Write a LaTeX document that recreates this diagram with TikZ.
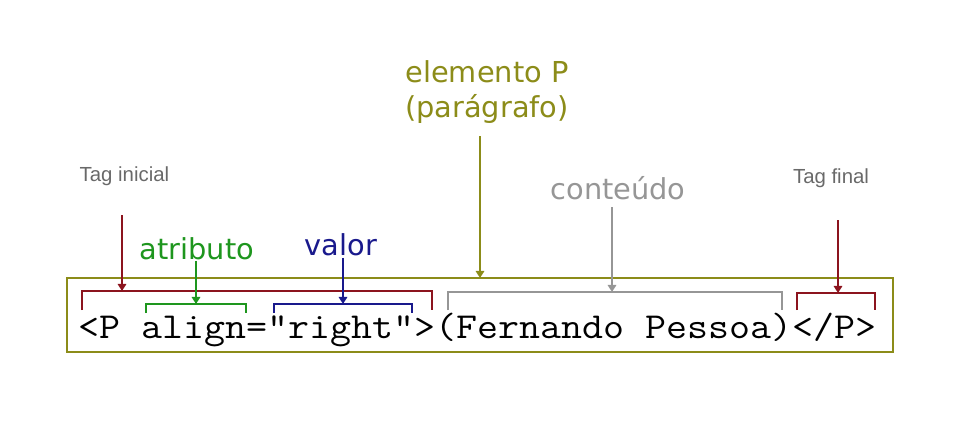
\documentclass[tikz,border=0pt]{standalone}
\usepackage{fontspec}
\newfontfamily\labelfont{DejaVu Sans}
\newfontfamily\tagfont{Liberation Sans}
\usetikzlibrary{arrows.meta}
\definecolor{tagred}{RGB}{140,20,30}
\definecolor{attgreen}{RGB}{30,150,30}
\definecolor{valblue}{RGB}{25,25,140}
\definecolor{elemolive}{RGB}{140,140,25}
\definecolor{contgray}{RGB}{150,150,150}
\definecolor{taggray}{RGB}{105,105,105}
\tikzset{
  partlabel/.style={font=\labelfont\fontsize{20.5}{25}\selectfont, inner sep=1pt},
  taglabel/.style={font=\tagfont\fontsize{14.5}{17}\selectfont, text=taggray, inner sep=1pt},
  brace/.style={line width=1.4pt},
  pointer/.style={line width=1.4pt, -{Triangle[length=5pt,width=6pt]}}
}
\begin{document}
\begin{tikzpicture}[x=0.025cm, y=-0.025cm]
% page size
\useasboundingbox (0,0) rectangle (958,422);

% the code line in its box
\draw[elemolive, line width=1.4pt] (67,278) rectangle (893,352);
\node[anchor=base west, inner sep=0, xscale=1.115, font=\ttfamily\fontsize{26}{30}\selectfont] (code) at (78,338) {<P align="right">(Fernando Pessoa)</P>};

% brackets over the parts
\draw[brace, tagred] (82,310) |- (432,291) -- (432,310);
\draw[brace, attgreen] (146,313) |- (246,304) -- (246,313);
\draw[brace, valblue] (274,313) |- (412,304) -- (412,313);
\draw[brace, contgray] (448,310) |- (782,292) -- (782,310);
\draw[brace, tagred] (797,310) |- (875,293) -- (875,310);

% points the arrows go to
\coordinate (inicialbrace) at (122,291);
\coordinate (attbrace) at (196,304);
\coordinate (valbrace) at (343,304);
\coordinate (elembox) at (480,278);
\coordinate (contbrace) at (612,292);
\coordinate (finalbrace) at (838,293);
\coordinate (inicialtop) at (122,215);
\coordinate (finaltop) at (838,220);
\coordinate (elemtop) at (480,136);

% labels
\node[taglabel, anchor=base west] (inicial) at (78,181) {Tag inicial};
\node[taglabel] (final) at (831,178) {Tag final};
\node[partlabel, text=attgreen] (atributo) at (197,249) {atributo};
\node[partlabel, text=valblue] (valor) at (341,245) {valor};
\node[partlabel, text=contgray] (conteudo) at (618,188) {conteúdo};
\node[partlabel, text=elemolive, align=center] (elemento) at (487,92) {elemento P\\(parágrafo)};

% arrows
\draw[pointer, tagred] (inicialtop) -- (inicialbrace);
\draw[pointer, attgreen] (atributo.south -| attbrace) ++(0,-1) -- (attbrace);
\draw[pointer, valblue] (valor.south -| valbrace) -- (valbrace);
\draw[pointer, contgray] (conteudo.south -| contbrace) ++(0,6) -- (contbrace);
\draw[pointer, elemolive] (elemtop) -- (elembox);
\draw[pointer, tagred] (finaltop) -- (finalbrace);
\end{tikzpicture}
\end{document}
